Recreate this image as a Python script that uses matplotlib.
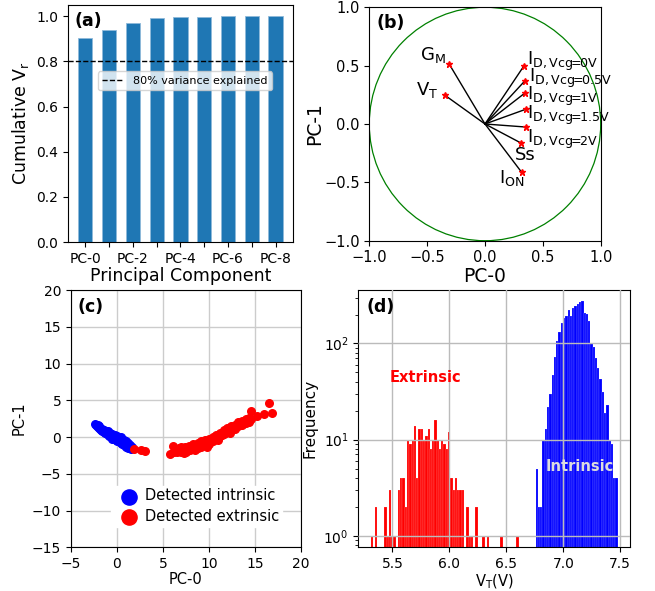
import numpy as np
import matplotlib
matplotlib.use("Agg")
import matplotlib.pyplot as plt
import matplotlib.patches as patches

plt.rcParams['mathtext.default'] = 'regular'

# ---- (a) cumulative explained variance ----
pc_names = ['PC-0', 'PC-1', 'PC-2', 'PC-3', 'PC-4', 'PC-5', 'PC-6', 'PC-7', 'PC-8']
cum_var = [0.903, 0.939, 0.971, 0.994, 0.998, 0.999, 1.0, 1.0, 1.0]

# ---- (b) loadings on PC-0 / PC-1 ----
feat_labels = ['$G_M$', '$V_T$', r'$I_{D,Vcg\!\!=\!\!0V}$', r'$I_{D,Vcg\!\!=\!\!0.5V}$',
               r'$I_{D,Vcg\!\!=\!\!1V}$', r'$I_{D,Vcg\!\!=\!\!1.5V}$', r'$I_{D,Vcg\!\!=\!\!2V}$',
               'Ss', '$I_{ON}$']
load_pc0 = [-0.308, -0.346, 0.334, 0.346, 0.346, 0.352, 0.352, 0.311, 0.317]
load_pc1 = [0.511, 0.246, 0.494, 0.371, 0.266, 0.126, -0.026, -0.163, -0.414]
# where each label sits (x, baseline y, alignment)
label_pos = [(-0.34, 0.55, 'right'), (-0.40, 0.25, 'right'), (0.366, 0.506, 'left'),
             (0.38, 0.363, 'left'), (0.366, 0.206, 'left'), (0.366, 0.04, 'left'),
             (0.366, -0.166, 'left'), (0.259, -0.309, 'left'), (0.121, -0.509, 'left')]

# ---- (c) scores ----
intr_x = [-2.4, -2.3, -2.2, -2.1, -2.1, -2.0, -1.9, -1.8, -1.8, -1.7, -1.6, -1.6, -1.5, -1.4, -1.4,
          -1.3, -1.2, -1.2, -1.1, -1.0, -1.0, -1.0, -0.9, -0.8, -0.8, -0.7, -0.6, -0.6, -0.5, -0.5,
          -0.4, -0.3, -0.3, -0.2, -0.2, -0.1, 0.0, 0.0, 0.0, 0.1, 0.2, 0.2, 0.3, 0.4, 0.4, 0.4,
          0.5, 0.6, 0.6, 0.6, 0.7, 0.8, 0.8, 0.8, 0.9, 1.0, 1.0, 1.0, 1.1, 1.2, 1.2, 1.2, 1.3,
          1.4, 1.4, 1.5, 1.6]
intr_y = [1.75, 1.6, 1.5, 1.65, 1.35, 1.45, 1.2, 1.25, 1.05, 1.0, 1.1, 0.85, 0.9, 0.95, 0.7,
          0.6, 0.8, 0.5, 0.45, 0.85, 0.65, 0.35, 0.15, 0.5, 0.2, 0.3, 0.0, 0.3, 0.4, -0.2,
          0.1, -0.3, 0.05, 0.25, -0.1, -0.4, 0.15, -0.35, -0.6, -0.1, -0.2, -0.55, -0.7, 0.0, -0.4,
          -0.8, -0.5, -0.25, -0.6, -0.95, -0.75, -0.4, -0.8, -1.15, -1.0, -0.6, -1.0, -1.3, -1.2,
          -0.85, -1.2, -1.45, -1.3, -1.1, -1.45, -1.6, -1.35]
extr_x = [1.9, 2.6, 3.1, 5.8, 6.1, 6.2, 6.4, 6.5, 6.7, 6.8, 7.0, 7.0, 7.2, 7.3, 7.4, 7.5, 7.7,
          7.8, 8.0, 8.1, 8.3, 8.4, 8.5, 8.6, 8.8, 8.8, 9.0, 9.2, 9.2, 9.4, 9.6, 9.6, 9.8, 9.8,
          10.0, 10.0, 10.2, 10.4, 10.4, 10.6, 10.8, 10.8, 11.0, 11.0, 11.2, 11.2, 11.4, 11.6,
          11.6, 11.8, 12.0, 12.0, 12.2, 12.3, 12.4, 12.4, 12.6, 12.8, 12.8, 13.0, 13.2, 13.2,
          13.4, 13.6, 13.6, 13.8, 14.0, 14.0, 14.2, 14.4, 14.4, 14.6, 14.6, 15.2, 16.0, 16.6, 16.9]
extr_y = [-1.6, -1.7, -1.95, -2.3, -1.2, -2.0, -1.7, -2.1, -1.5, -1.9, -1.3, -2.1, -1.7, -2.2,
          -1.4, -2.0, -1.6, -1.2, -1.8, -1.4, -1.0, -1.6, -1.8, -1.2, -0.8, -1.5, -1.0, -0.6,
          -1.3, -0.9, -0.4, -1.1, -0.7, -1.3, -0.2, -0.9, -0.5, 0.0, -0.6, -0.3, 0.3, -0.2, 0.0,
          -0.4, 0.6, 0.1, 0.3, 0.9, 0.4, 0.6, 1.2, 0.7, 0.9, 0.5, 1.5, 1.0, 1.2, 1.7, 1.1, 1.4,
          2.0, 1.5, 1.7, 2.2, 1.6, 1.9, 2.4, 1.9, 2.2, 2.6, 2.1, 3.5, 2.5, 2.9, 3.1, 4.6, 3.3]

# ---- (d) V_T histograms ----
bin_w = 0.02
extr_start = 5.308
extr_counts = [1, 0, 2, 0, 0, 0, 2, 1, 3, 1, 1, 0, 3, 4, 4, 2, 10, 9, 10, 14, 4, 13, 13, 10,
               11, 13, 8, 10, 16, 10, 8, 10, 9, 8, 12, 4, 3, 4, 3, 3, 3, 0, 2, 1, 1, 0, 2, 0,
               0, 1, 0, 1, 0, 0, 0, 0, 0, 1, 0, 0, 0, 0, 0, 0, 1]
intr_start = 6.757
intr_counts = [5, 2, 2, 10, 13, 22, 30, 47, 72, 105, 132, 162, 182, 194, 225, 194, 232, 244,
               257, 268, 277, 207, 202, 172, 102, 91, 71, 55, 43, 31, 19, 23, 10, 9, 4, 4]

fig = plt.figure(figsize=(6.55, 5.91), dpi=100)

# (a)
ax = fig.add_axes([0.1038, 0.5905, 0.3435, 0.401])
xa = np.arange(len(pc_names))
ax.bar(xa, cum_var, width=0.6, color='#1f77b4', ec='#8fb9da', lw=0.6)
ax.axhline(0.8, color='k', ls='--', lw=1, label='80% variance explained')
ax.set_xticks(xa)
ax.set_xticklabels([n if i % 2 == 0 else '' for i, n in enumerate(pc_names)], fontsize=10)
ax.tick_params(axis='y', labelsize=10)
ax.set_ylabel('Cumulative $V_r$', fontsize=12.5)
ax.set_xlabel('Principal Component', fontsize=12.5, labelpad=1)
ax.legend(loc='center', bbox_to_anchor=(0.52, 0.68), fontsize=8, framealpha=0.8)
ax.text(0.03, 0.97, '(a)', transform=ax.transAxes, fontsize=12.5, fontweight='bold',
        va='top', ha='left')

# (b)
ax = fig.add_axes([0.5638, 0.5927, 0.3533, 0.395])
ax.add_patch(patches.Circle((0, 0), 1.0, fill=False, ec='green', lw=0.9))
for x, y in zip(load_pc0, load_pc1):
    ax.plot([0, x], [0, y], 'k-', lw=1)
ax.plot(load_pc0, load_pc1, 'r*', ms=5)
for lab, (tx, ty, ha) in zip(feat_labels, label_pos):
    ax.text(tx, ty, lab, fontsize=13, ha=ha, va='baseline')
ax.set_xlim(-1, 1)
ax.set_ylim(-1, 1)
ax.set_xticks([-1, -0.5, 0, 0.5, 1])
ax.set_yticks([-1, -0.5, 0, 0.5, 1])
ax.tick_params(labelsize=10.5)
ax.set_xlabel('PC-0', fontsize=13.5, labelpad=1)
ax.set_ylabel('PC-1', fontsize=13.5, labelpad=0)
ax.text(0.03, 0.97, '(b)', transform=ax.transAxes, fontsize=12.5, fontweight='bold',
        va='top', ha='left')

# (c)
ax = fig.add_axes([0.1084, 0.0739, 0.3507, 0.4354])
ax.grid(True, color='#cccccc', lw=1)
ax.set_axisbelow(True)
ax.scatter(intr_x, intr_y, s=30, c='blue', label='Detected intrinsic')
ax.scatter(extr_x, extr_y, s=30, c='red', label='Detected extrinsic')
ax.set_xlim(-5, 20)
ax.set_ylim(-15, 20)
ax.set_xticks([-5, 0, 5, 10, 15, 20])
ax.set_yticks([-15, -10, -5, 0, 5, 10, 15, 20])
ax.tick_params(labelsize=10)
ax.set_xlabel('PC-0', fontsize=10.5, labelpad=1)
ax.set_ylabel('PC-1', fontsize=10.5)
ax.legend(loc='lower right', bbox_to_anchor=(0.95, 0.05), fontsize=10.5, markerscale=2.0,
          frameon=True, edgecolor='white', framealpha=1, handletextpad=0.1,
          borderpad=0.2, labelspacing=0.4)
ax.text(0.03, 0.97, '(c)', transform=ax.transAxes, fontsize=12.5, fontweight='bold',
        va='top', ha='left')

# (d)
ax = fig.add_axes([0.547, 0.0739, 0.4148, 0.4354])
ec = np.array(extr_counts, dtype=float)
ic = np.array(intr_counts, dtype=float)
ex = extr_start + bin_w * np.arange(len(ec))
ix = intr_start + bin_w * np.arange(len(ic))
ax.bar(ex[ec > 0], ec[ec > 0], width=bin_w, align='edge', color='red',
       ec=(1, 1, 1, 0.4), lw=0.3)
ax.bar(ix[ic > 0], ic[ic > 0], width=bin_w, align='edge', color='blue',
       ec=(1, 1, 1, 0.4), lw=0.3)
ax.set_yscale('log')
ax.set_ylim(0.757, 360)
ax.set_xlim(5.2, 7.585)
ax.set_xticks([5.5, 6.0, 6.5, 7.0, 7.5])
ax.grid(True, which='major', color='#bbbbbb', lw=1)
ax.set_axisbelow(False)
ax.tick_params(labelsize=10)
ax.set_xlabel('$V_T$(V)', fontsize=10.5, labelpad=1)
ax.set_ylabel('Frequency', fontsize=11)
ax.text(5.79, 44, 'Extrinsic', color='red', fontweight='bold', fontsize=10.5,
        ha='center', va='center')
ax.text(7.14, 5.3, 'Intrinsic', color='#dddddd', fontweight='bold', fontsize=10.5,
        ha='center', va='center')
ax.text(0.03, 0.97, '(d)', transform=ax.transAxes, fontsize=12.5, fontweight='bold',
        va='top', ha='left')

fig.savefig('out.png', dpi=100)
plt.close(fig)
